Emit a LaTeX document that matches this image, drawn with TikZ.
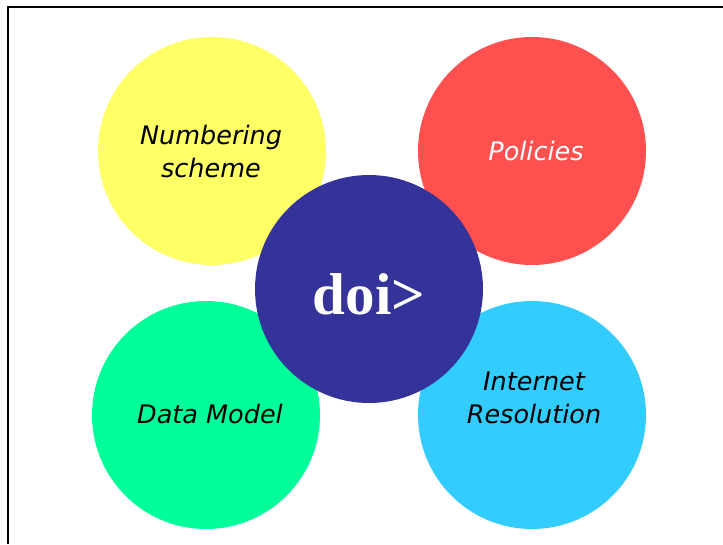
\documentclass[tikz,border=0pt]{standalone}
\usepackage{fontspec}
\setmainfont{Liberation Serif}
\newfontfamily\handfont{DejaVu Sans}
\definecolor{cyel}{HTML}{FFFF66}
\definecolor{cred}{HTML}{FF5050}
\definecolor{cgrn}{HTML}{00FF99}
\definecolor{ccyn}{HTML}{33CCFF}
\definecolor{cblu}{HTML}{333399}
\tikzset{
  disc/.style={circle, minimum size=228pt, inner sep=0pt, draw=none},
  lbl/.style={font=\handfont\itshape\fontsize{25.5}{33}\selectfont, align=center},
}
\begin{document}
\begin{tikzpicture}[x=1pt,y=-1pt]
\useasboundingbox (0,0) rectangle (723,544);
\fill[white] (0,0) rectangle (723,544);
\draw[line width=2pt] (723,7) -- (8,7) -- (8,544);
\node[disc, fill=cyel] (num) at (212,151) {};
\node[disc, fill=cred] (pol) at (532,151) {};
\node[disc, fill=cgrn] (dat) at (206,415) {};
\node[disc, fill=ccyn] (inet) at (532,415) {};
\node[disc, fill=cblu] (doi) at (369,289) {};
\node[lbl, text=black] (numt) at (211,151) {Numbering\\scheme};
\node[lbl, text=white] (polt) at (536,151) {Policies};
\node[lbl, text=black] (datt) at (210,414) {Data Model};
\node[lbl, text=black] (inett) at (534,398) {Internet\\Resolution};
\node[text=white, font=\bfseries\fontsize{59}{66}\selectfont] (doit) at (369,294) {doi>};
\end{tikzpicture}
\end{document}
